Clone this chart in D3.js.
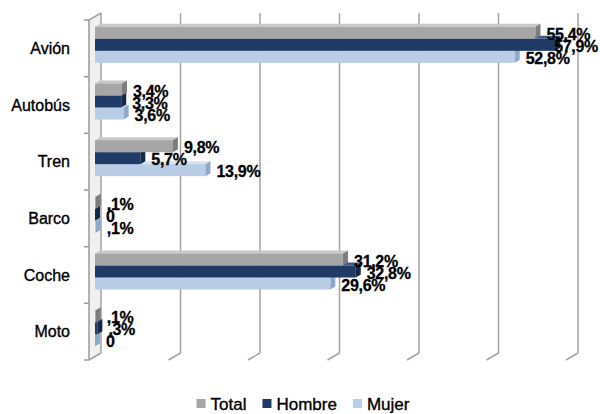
<!DOCTYPE html>
<html>
<head>
<meta charset="utf-8">
<script src="https://cdn.jsdelivr.net/npm/d3@7"></script>
<style>
  html, body { margin: 0; padding: 0; background: #fff; }
  svg { display: block; }
</style>
</head>
<body>
<svg id="chart" width="600" height="414"></svg>
<script>
// ---- data ----
const categories = ["Avión", "Autobús", "Tren", "Barco", "Coche", "Moto"];
const seriesNames = ["Total", "Hombre", "Mujer"];
const totalValues  = [55.4, 3.4, 9.8, 0.1, 31.2, 0.1];
const hombreValues = [57.9, 3.3, 5.7, 0,   32.8, 0.3];
const mujerValues  = [52.8, 3.6, 13.9, 0.1, 29.6, 0];
const gridTicks = [0, 10, 20, 30, 40, 50, 60];

const seriesValues = [totalValues, hombreValues, mujerValues];
const colors = {
  Total:  { front: "#a6a6a6", top: "#c8c8c8", end: "#7d7d7d" },
  Hombre: { front: "#1f3b65", top: "#3b5b8c", end: "#142848" },
  Mujer:  { front: "#b9cde6", top: "#d5e2f2", end: "#8ea8c9" }
};

const svg = d3.select("#chart");
const W = 600;

// 3D geometry: back plane, middle (bars), front plane
const depthX = 12, depthY = 7;
const backTop = 13, backBottom = 353;

const x = d3.scaleLinear().domain([0, 60]).range([95, 95 + 60 * 7.95]);

const yBars = d3.scaleBand().domain(categories)
  .range([backTop + depthY / 2, backBottom + depthY / 2]).paddingInner(0).paddingOuter(0);
const yFront = d3.scaleBand().domain(categories)
  .range([backTop + depthY, backBottom + depthY]).paddingInner(0).paddingOuter(0);
const ySeries = d3.scaleBand().domain(seriesNames)
  .range([0, yBars.bandwidth()]).paddingInner(0).paddingOuter(0.86);

const backX = v => x(v) + depthX / 2;
const frontX = v => x(v) - depthX / 2;

// left side wall
svg.append("path")
  .attr("d", `M${frontX(0)},${backTop + depthY} L${backX(0)},${backTop} L${backX(0)},${backBottom} L${frontX(0)},${backBottom + depthY} Z`)
  .attr("fill", "#f0f0f0").attr("stroke", "none");

// gridlines on back wall + floor feet
const grid = svg.append("g");
gridTicks.forEach(v => {
  grid.append("line")
    .attr("x1", backX(v)).attr("x2", backX(v))
    .attr("y1", backTop).attr("y2", backBottom)
    .attr("stroke", "#a3a3a3").attr("stroke-width", 1.5);
  grid.append("line")
    .attr("x1", backX(v)).attr("y1", backBottom)
    .attr("x2", frontX(v)).attr("y2", backBottom + depthY)
    .attr("stroke", "#a3a3a3").attr("stroke-width", 1.5);
});
grid.append("line")
  .attr("x1", frontX(0)).attr("y1", backTop + depthY)
  .attr("x2", backX(0)).attr("y2", backTop)
  .attr("stroke", "#a3a3a3").attr("stroke-width", 1.5);

// front axis with ticks
const axisG = svg.append("g");
axisG.append("line")
  .attr("x1", frontX(0)).attr("x2", frontX(0))
  .attr("y1", backTop + depthY).attr("y2", backBottom + depthY)
  .attr("stroke", "#9a9a9a").attr("stroke-width", 1.5);
const tickYs = categories.map(c => yFront(c)).concat([yFront.range()[1]]);
tickYs.forEach(ty => {
  axisG.append("line")
    .attr("x1", frontX(0) - 5).attr("x2", frontX(0))
    .attr("y1", ty).attr("y2", ty)
    .attr("stroke", "#9a9a9a").attr("stroke-width", 1.5);
});

// category labels
svg.append("g").selectAll("text").data(categories).join("text")
  .attr("x", 70)
  .attr("y", d => yFront(d) + yFront.bandwidth() / 2)
  .attr("dy", "0.35em")
  .attr("text-anchor", "end")
  .attr("font-family", "Liberation Sans, Arial, sans-serif")
  .attr("font-size", 16)
  .attr("fill", "#000")
  .attr("stroke", "#000").attr("stroke-width", 0.35)
  .text(d => d);

// bars (3D)
const bdx = 5, bdy = 3;
const barsG = svg.append("g");
categories.forEach((cat, ci) => {
  for (let si = seriesNames.length - 1; si >= 0; si--) {
    const s = seriesNames[si];
    const v = seriesValues[si][ci];
    const y0 = yBars(cat) + ySeries(s);
    const h = ySeries.bandwidth();
    const x0 = x(0), x1 = x(v);
    const c = colors[s];
    const g = barsG.append("g");
    g.append("path")
      .attr("d", `M${x0},${y0} L${x0 + bdx},${y0 - bdy} L${x1 + bdx},${y0 - bdy} L${x1},${y0} Z`)
      .attr("fill", c.top);
    g.append("rect")
      .attr("x", x0).attr("y", y0)
      .attr("width", Math.max(0, x1 - x0)).attr("height", h)
      .attr("fill", c.front);
    g.append("path")
      .attr("d", `M${x1},${y0} L${x1 + bdx},${y0 - bdy} L${x1 + bdx},${y0 + h - bdy} L${x1},${y0 + h} Z`)
      .attr("fill", c.end);
  }
});

// data labels
const fmt = v => v === 0 ? "0" : d3.format(".1f")(v).replace(/^0/, "").replace(".", ",") + "%";
const labelsG = svg.append("g");
categories.forEach((cat, ci) => {
  seriesNames.forEach((s, si) => {
    const v = seriesValues[si][ci];
    const t = labelsG.append("text")
      .attr("y", yBars(cat) + ySeries(s) + ySeries.bandwidth() / 2 + 1.5)
      .attr("dy", "0.36em")
      .attr("font-family", "Liberation Sans, Arial, sans-serif")
      .attr("font-weight", "bold")
      .attr("font-size", 16)
      .attr("letter-spacing", -0.3)
      .attr("fill", "#000")
      .attr("stroke", "#000").attr("stroke-width", 0.3)
      .text(fmt(v));
    const w = t.node().getComputedTextLength();
    t.attr("x", Math.min(x(v) + 11, W - w - 2));
  });
});

// legend
const legend = svg.append("g");
const legendY = 404;
const items = [];
seriesNames.forEach((s, i) => {
  const g = legend.append("g");
  g.append("rect").attr("x", 0).attr("y", -5).attr("width", 9).attr("height", 9)
    .attr("fill", colors[s].front);
  const t = g.append("text").attr("x", 14).attr("y", 0).attr("dy", "0.36em")
    .attr("font-family", "Liberation Sans, Arial, sans-serif")
    .attr("font-size", 17).attr("fill", "#000")
    .attr("stroke", "#000").attr("stroke-width", 0.35)
    .text(s);
  const w = 14 + t.node().getComputedTextLength();
  items.push({ g, w });
});
const gap = 16;
const totalW = d3.sum(items, d => d.w) + gap * (items.length - 1);
let start = 303 - totalW / 2;
items.forEach(it => {
  it.g.attr("transform", `translate(${start},${legendY})`);
  start += it.w + gap;
});
</script>
</body>
</html>
